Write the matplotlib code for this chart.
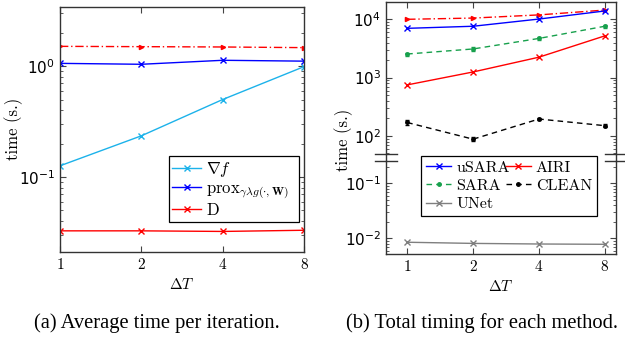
import matplotlib
matplotlib.use("Agg")
import matplotlib.pyplot as plt
from matplotlib.lines import Line2D
from matplotlib.ticker import FixedLocator, LogLocator, NullFormatter, NullLocator

plt.rcParams['mathtext.fontset'] = 'cm'
plt.rcParams['axes.unicode_minus'] = False

# ---------------- data ----------------
dT = [1, 2, 4, 8]
dT_labels = ['$1$', '$2$', '$4$', '$8$']

# (a) average time per iteration
grad_f = [0.126, 0.235, 0.50, 0.99]
prox = [1.06, 1.04, 1.13, 1.11]
denoiser = [0.0326, 0.0326, 0.0322, 0.0330]
iter_total = [1.51, 1.50, 1.49, 1.47]

# (b) total timing
usara = [7000, 7600, 10100, 13900]
airi = [750, 1250, 2240, 5200]
airi_total = [10000, 10500, 11900, 14400]
sara = [2540, 3100, 4700, 7600]
sara_err = [150, 200, 350, 500]
clean = [170, 88, 195, 150]
clean_err = [15, 7, 10, 8]
unet = [0.0085, 0.0081, 0.0079, 0.0078]

CYAN = '#1cb2ea'
BLUE = '#0000ff'
RED = '#ff0000'
GREEN = '#17a04c'
GRAY = '#7f7f7f'

W, H = 625, 337
fig = plt.figure(figsize=(6.25, 3.37), dpi=100)

def rect(x0, y0, x1, y1):
    return [x0 / W, 1 - y1 / H, (x1 - x0) / W, (y1 - y0) / H]

TFS = 11
LFS = 12
cm = 'cmr10'

def style(ax, top=True, bottom=True):
    ax.set_xscale('log', base=2)
    ax.xaxis.set_major_locator(FixedLocator(dT))
    ax.xaxis.set_minor_locator(NullLocator())
    ax.set_xticklabels(dT_labels if bottom else [])
    ax.tick_params(axis='both', which='both', direction='in', top=top, bottom=bottom,
                   left=True, right=True, labelsize=TFS, colors='#444444', labelcolor='black')
    ax.tick_params(which='major', length=4.5, width=0.8)
    ax.tick_params(which='minor', length=2.5, width=0.6)
    ax.yaxis.set_major_locator(LogLocator(base=10, numticks=20))
    ax.yaxis.set_minor_locator(LogLocator(base=10, subs=range(2, 10), numticks=20))
    ax.yaxis.set_minor_formatter(NullFormatter())
    for s in ax.spines.values():
        s.set_color('#333333')
        s.set_linewidth(1.0)

mk = dict(markersize=4, markeredgewidth=1.0)
DASHDOT = (0, (6, 2, 1, 2))
DASH = (0, (4, 3))

# ---------- panel (a) ----------
axa = fig.add_axes(rect(60, 7.3, 304, 252))
axa.set_yscale('log')
style(axa)
axa.plot(dT, iter_total, color=RED, ls=DASHDOT, lw=1.0, marker='>', markersize=3, label='_nolegend_')
l1, = axa.plot(dT, grad_f, color=CYAN, lw=1.0, marker='x', **mk)
l2, = axa.plot(dT, prox, color=BLUE, lw=1.0, marker='x', **mk)
l3, = axa.plot(dT, denoiser, color=RED, lw=1.0, marker='x', **mk)
axa.set_xlim(1, 8)
axa.set_ylim(0.021, 3.4)
axa.set_xlabel(r'$\Delta T$', fontsize=TFS, labelpad=4)
fig.text(14 / W, 1 - 129 / H, 'time (s.)', rotation=90, ha='center', va='center',
         fontsize=LFS, family=cm)
lega = axa.legend([l1, l2, l3],
                  [r'$\nabla f$', r'$\mathrm{prox}_{\gamma\lambda g(\cdot,\mathbf{W})}$', r'$\mathrm{D}$'],
                  loc='lower left', bbox_to_anchor=((169 - 60) / 244, (252 - 222) / 244.7,
                                                     (299 - 169) / 244, (222 - 161) / 244.7),
                  mode='expand', fontsize=12, frameon=True, fancybox=False,
                  edgecolor='black', framealpha=1, handlelength=1.7, borderpad=0.2,
                  labelspacing=0.0, handletextpad=0.3, borderaxespad=0)
lega.get_frame().set_linewidth(0.9)

# ---------- panel (b) ----------
axt = fig.add_axes(rect(386, 2, 616, 154))
axb = fig.add_axes(rect(386, 161, 616, 254))
for ax in (axt, axb):
    ax.set_yscale('log')
style(axt, top=True, bottom=False)
style(axb, top=False, bottom=True)
axt.spines['bottom'].set_visible(False)
axb.spines['top'].set_visible(False)

for ax in (axt, axb):
    ax.plot(dT, airi_total, color=RED, ls=DASHDOT, lw=1.0, marker='>', markersize=3)
    ax.plot(dT, usara, color=BLUE, lw=1.0, marker='x', **mk)
    ax.plot(dT, airi, color=RED, lw=1.0, marker='x', **mk)
    ax.errorbar(dT, sara, yerr=sara_err, color=GREEN, ls=DASH, lw=1.0,
                marker='.', markersize=5, capsize=1.5, elinewidth=0.8)
    ax.errorbar(dT, clean, yerr=clean_err, color='black', ls=DASH, lw=1.0,
                marker='.', markersize=5, capsize=1.5, elinewidth=0.8)
    ax.plot(dT, unet, color=GRAY, lw=1.0, marker='x', **mk)
    ax.set_xlim(0.8, 9.0)

axt.set_ylim(49, 19800)
axb.set_ylim(0.0052, 0.254)
axb.set_xlabel(r'$\Delta T$', fontsize=TFS, labelpad=4)

# break marks
for y in (154, 161):
    for x in (386, 616):
        fig.add_artist(Line2D([(x - 11) / W, (x + 11) / W], [1 - y / H, 1 - y / H],
                              color='#333333', lw=1.0))
for x in (386, 616):
    fig.add_artist(Line2D([x / W, x / W], [1 - 154 / H, 1 - 161 / H], color='#333333', lw=1.0))

fig.text(344 / W, 1 - 140 / H, 'time (s.)', rotation=90, ha='center', va='center',
         fontsize=LFS, family=cm)

hu = Line2D([], [], color=BLUE, lw=1.0, marker='x', **mk)
ha = Line2D([], [], color=RED, lw=1.0, marker='x', **mk)
hs = Line2D([], [], color=GREEN, ls=DASH, lw=1.0, marker='.', markersize=5)
hc = Line2D([], [], color='black', ls=DASH, lw=1.0, marker='.', markersize=5)
hn = Line2D([], [], color=GRAY, lw=1.0, marker='x', **mk)
legb = fig.legend([hu, hs, hn, ha, hc], ['uSARA', 'SARA', 'UNet', 'AIRI', 'CLEAN'],
                  loc='lower left', bbox_to_anchor=(421 / W, 1 - 216 / H, (597 - 421) / W, (216 - 154) / H),
                  mode='expand', ncol=2, prop={'family': cm, 'size': 11.5},
                  frameon=True, fancybox=False, edgecolor='black', framealpha=1,
                  handlelength=1.6, borderpad=0.3, labelspacing=0.25, handletextpad=0.3,
                  columnspacing=0.4, borderaxespad=0)
legb.get_frame().set_linewidth(0.9)
legb.set_zorder(10)

# captions
fig.text(157 / W, 1 - 323 / H, '(a) Average time per iteration.', ha='center', va='center',
         fontsize=14.8, family='Liberation Serif')
fig.text(482 / W, 1 - 323 / H, '(b) Total timing for each method.', ha='center', va='center',
         fontsize=14.8, family='Liberation Serif')

fig.savefig('out.png', dpi=100)
